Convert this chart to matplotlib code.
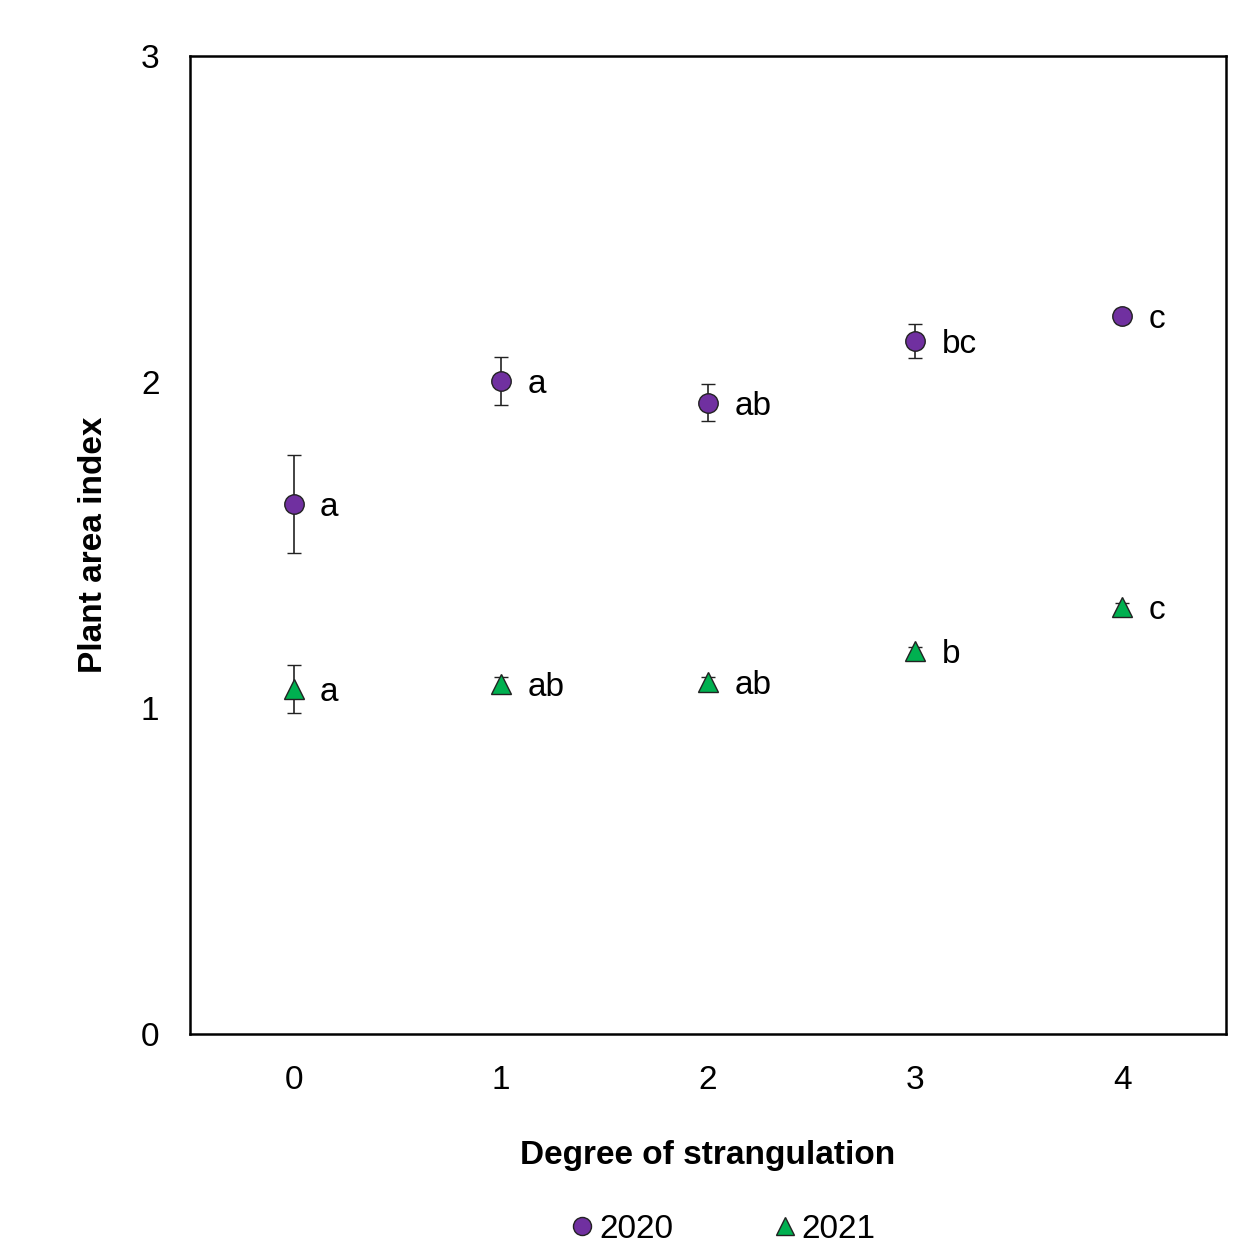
import matplotlib.pyplot as plt
from matplotlib.lines import Line2D
import numpy as np

plt.rcParams['font.family'] = ['Liberation Sans', 'DejaVu Sans']

# degree of strangulation
degree = [0, 1, 2, 3, 4]

# plant area index, 2020
pai_2020 = [1.626, 2.003, 1.936, 2.126, 2.202]
err_2020 = [0.150, 0.075, 0.057, 0.052, 0.022]
lab_2020 = ["a", "a", "ab", "bc", "c"]

# plant area index, 2021
pai_2021 = [1.058, 1.074, 1.080, 1.175, 1.310]
err_2021 = [0.074, 0.022, 0.016, 0.012, 0.012]
lab_2021 = ["a", "ab", "ab", "b", "c"]

purple = '#7030A0'
green = '#00B050'
fs = 24

fig = plt.figure(figsize=(12.39, 12.43), dpi=100)
ax = fig.add_axes([0.1533, 0.168, 0.8362, 0.787])

ax.errorbar(degree, pai_2020, yerr=err_2020, fmt='o', color=purple,
            markeredgecolor='#222222', markeredgewidth=1.0, markersize=14,
            ecolor='#222222', elinewidth=1.2, capsize=5, capthick=1.2, zorder=3)
ax.errorbar(degree, pai_2021, yerr=err_2021, fmt='^', color=green,
            markeredgecolor='#222222', markeredgewidth=1.0, markersize=14,
            ecolor='#222222', elinewidth=1.2, capsize=5, capthick=1.2, zorder=3)

for x, y, t in zip(degree, pai_2020, lab_2020):
    ax.annotate(t, (x, y), xytext=(19, 0), textcoords='offset points',
                ha='left', va='center_baseline', fontsize=fs)
for x, y, t in zip(degree, pai_2021, lab_2021):
    ax.annotate(t, (x, y), xytext=(19, 0), textcoords='offset points',
                ha='left', va='center_baseline', fontsize=fs)

ax.set_xlim(-0.5, 4.5)
ax.set_ylim(0, 3)
ax.set_xticks(degree)
ax.set_yticks([0, 1, 2, 3])
ax.tick_params(axis='both', length=0, labelsize=fs)
ax.tick_params(axis='x', pad=22)
ax.tick_params(axis='y', pad=22)
for s in ax.spines.values():
    s.set_linewidth(1.8)

ax.set_xlabel('Degree of strangulation', fontsize=fs, fontweight='bold', labelpad=32)
ax.set_ylabel('Plant area index', fontsize=fs, fontweight='bold', labelpad=23)

h1 = Line2D([], [], marker='o', linestyle='none', color=purple,
            markeredgecolor='#222222', markersize=13)
h2 = Line2D([], [], marker='^', linestyle='none', color=green,
            markeredgecolor='#222222', markersize=13)
fig.legend(handles=[h1, h2], labels=['2020', '2021'], loc='center',
           bbox_to_anchor=(0.5815, 0.011), ncol=2, frameon=False, fontsize=fs,
           handletextpad=0.0, columnspacing=2.85, handlelength=1.0)

fig.savefig('out.png', dpi=100)
